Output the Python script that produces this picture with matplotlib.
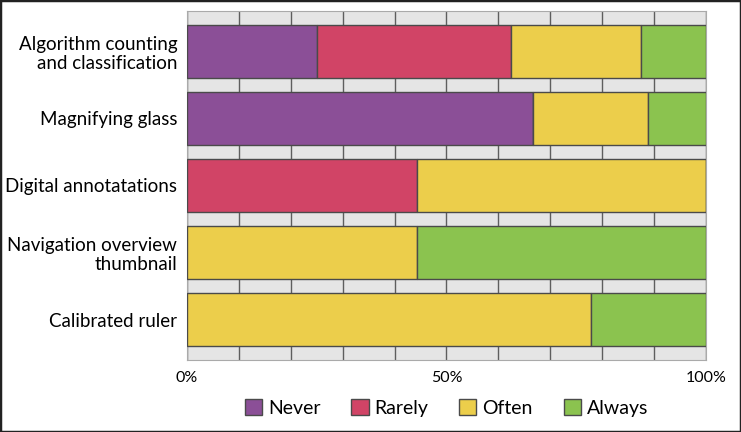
import matplotlib.pyplot as plt
from matplotlib.patches import Rectangle

plt.rcParams['font.family'] = ['Lato', 'DejaVu Sans']

categories = ["Algorithm counting\nand classification", "Magnifying glass",
              "Digital annotatations", "Navigation overview\nthumbnail", "Calibrated ruler"]
never = [25.0, 66.7, 0.0, 0.0, 0.0]
rarely = [37.5, 0.0, 44.4, 0.0, 0.0]
often = [25.0, 22.2, 55.6, 44.4, 77.8]
always = [12.5, 11.1, 0.0, 55.6, 22.2]
series = [("Never", never, "#8b4f97"), ("Rarely", rarely, "#d14466"),
          ("Often", often, "#ecce4b"), ("Always", always, "#8bc34f")]

fig = plt.figure(figsize=(7.41, 4.32), dpi=100)
ax = fig.add_axes([187 / 741, 1 - 360 / 432, 519 / 741, 349 / 432])
ax.set_facecolor("#e5e5e5")

y = list(range(len(categories)))
left = [0.0] * len(categories)
for name, vals, col in series:
    ax.barh(y, vals, left=left, height=0.79, color=col, edgecolor="#4a4a4a",
            linewidth=1.0, label=name, zorder=3)
    left = [l + v for l, v in zip(left, vals)]

ax.set_xlim(0, 100)
ax.set_ylim(len(categories) - 0.4, -0.6)
ax.set_axisbelow(True)
ax.set_xticks([0, 50, 100])
ax.set_xticks(range(0, 101, 10), minor=True)
ax.xaxis.grid(True, which="both", color="#5e5e5e", linewidth=1.0)
ax.set_xticklabels(["0%", "50%", "100%"], fontsize=11.5)
ax.tick_params(axis="x", which="both", length=0, pad=8)
ax.set_yticks(y)
ax.set_yticklabels(categories, fontsize=13.5, linespacing=1.15)
ax.tick_params(axis="y", length=0, pad=7)
for s in ax.spines.values():
    s.set_color("#aaaaaa")
    s.set_linewidth(0.8)

ax.legend(loc="center", bbox_to_anchor=(0.5, -0.1375), ncol=4, frameon=False,
          fontsize=14, handlelength=0.88, handleheight=0.88, columnspacing=1.6,
          handletextpad=0.3)

fig.patches.append(Rectangle((0, 0), 1, 1, transform=fig.transFigure, fill=False,
                             edgecolor="#222222", linewidth=2.5))
fig.savefig("out.png", dpi=100)
